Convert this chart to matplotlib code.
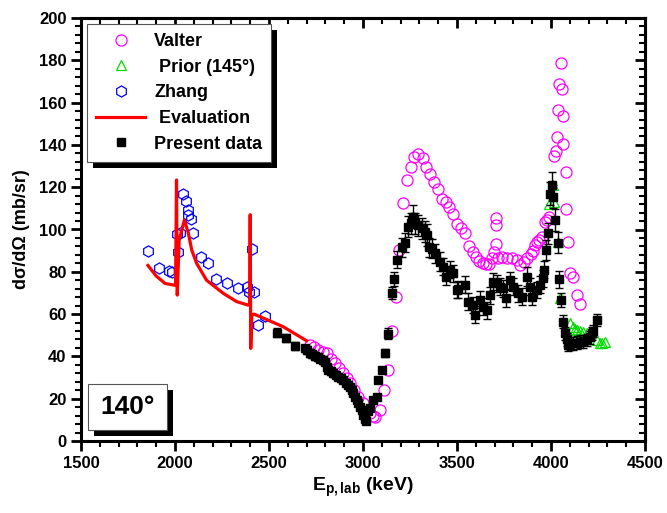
import matplotlib
matplotlib.use("Agg")
import matplotlib.pyplot as plt
from matplotlib.patches import Rectangle
from matplotlib.lines import Line2D
from matplotlib.ticker import MultipleLocator

plt.rcParams['font.family'] = ['Liberation Sans', 'DejaVu Sans']
plt.rcParams['font.weight'] = 'bold'
plt.rcParams['mathtext.fontset'] = 'custom'
plt.rcParams['mathtext.bf'] = 'Liberation Sans:bold'
plt.rcParams['mathtext.rm'] = 'Liberation Sans:bold'
plt.rcParams['mathtext.it'] = 'Liberation Sans:bold'
plt.rcParams['mathtext.default'] = 'bf'

# ---------------- data ----------------
present_x = [2541, 2590, 2640, 2691, 2704, 2718, 2731, 2745, 2758, 2771, 2785, 2798, 2807, 2816,
             2829, 2842, 2855, 2869, 2882, 2895, 2908, 2922, 2931, 2940, 2948, 2957, 2966, 2975,
             2984, 2993, 3002, 3010, 3016, 3025, 3037, 3055, 3073, 3082, 3099, 3117, 3135, 3153,
             3165, 3183, 3206, 3223, 3241, 3255, 3268, 3277, 3294, 3312, 3330, 3339, 3353, 3365,
             3383, 3410, 3427, 3441, 3463, 3480, 3498, 3507, 3543, 3561, 3587, 3596, 3622, 3640,
             3657, 3676, 3694, 3711, 3729, 3746, 3761, 3782, 3800, 3827, 3844, 3870, 3888, 3897,
             3924, 3941, 3956, 3963, 3973, 3986, 3995, 4004, 4012, 4021, 4036, 4045, 4053, 4065,
             4074, 4083, 4092, 4101, 4119, 4136, 4154, 4172, 4190, 4205, 4216, 4225, 4243]
present_y = [51.3, 48.6, 45.0, 43.8, 43.0, 41.5, 41.0, 40.2, 39.6, 39.0, 38.3, 37.5, 35.0, 33.6,
             33.0, 32.0, 31.2, 30.4, 29.6, 28.8, 27.5, 26.5, 25.5, 24.0, 22.5, 21.0, 19.5, 17.8,
             16.0, 14.7, 12.5, 10.5, 9.6, 14.0, 15.4, 19.4, 21.0, 28.8, 33.6, 41.5, 50.8, 70.0,
             76.6, 85.6, 91.6, 93.8, 101.3, 103.0, 106.0, 103.0, 102.0, 100.5, 99.0, 97.4, 91.6, 91.0,
             88.7, 84.8, 82.4, 77.7, 80.9, 79.3, 71.4, 71.7, 73.8, 65.9, 64.3, 59.6, 66.7, 63.5,
             61.9, 69.0, 75.3, 74.5, 73.0, 72.2, 67.5, 76.0, 73.0, 69.8, 68.2, 77.7, 73.0, 68.2,
             71.4, 73.8, 76.9, 80.9, 90.3, 98.2, 117.0, 121.0, 115.5, 104.5, 93.8, 76.4, 66.7, 56.4,
             50.9, 48.0, 45.4, 46.0, 46.2, 46.5, 47.0, 47.2, 47.8, 49.0, 50.9, 52.0, 57.2]
present_err = [2.0, 2.0, 2.0, 1.8, 1.8, 1.8, 1.8, 1.8, 1.8, 1.8, 1.8, 1.8, 1.6, 1.6,
               1.6, 1.6, 1.5, 1.5, 1.5, 1.5, 1.4, 1.4, 1.3, 1.3, 1.2, 1.2, 1.1, 1.0,
               1.0, 1.0, 1.0, 1.0, 1.0, 1.0, 1.0, 1.2, 1.2, 1.5, 1.6, 2.0, 2.5, 3.0,
               3.5, 4.0, 4.5, 4.5, 5.0, 5.0, 5.5, 5.0, 5.0, 5.0, 5.0, 5.0, 4.5, 4.5,
               4.5, 4.5, 4.0, 4.0, 4.0, 4.0, 4.0, 4.0, 4.0, 4.0, 4.0, 4.0, 4.0, 4.0,
               4.0, 4.0, 4.0, 4.0, 4.0, 4.0, 4.0, 4.0, 4.0, 4.0, 4.0, 4.5, 4.0, 4.0,
               4.0, 4.0, 4.0, 4.0, 4.5, 5.0, 5.5, 6.0, 5.5, 5.0, 5.0, 4.0, 3.5, 3.0,
               3.0, 3.0, 3.0, 3.0, 3.0, 3.0, 3.0, 3.0, 3.0, 3.0, 3.0, 3.0, 3.0]

valter_x = [2718, 2740, 2762, 2785, 2807, 2829, 2851, 2873, 2895, 2913, 2931, 2953, 2975, 3002,
            3037, 3051, 3064, 3090, 3110, 3135, 3156, 3176, 3193, 3211, 3232, 3253, 3271, 3294,
            3317, 3335, 3356, 3378, 3397, 3419, 3441, 3459, 3480, 3502, 3520, 3543, 3566, 3584,
            3601, 3619, 3637, 3654, 3672, 3685, 3697, 3707, 3707, 3707, 3720, 3737, 3764, 3791,
            3817, 3835, 3856, 3874, 3892, 3903, 3915, 3924, 3938, 3951, 3968, 3977, 3991, 4018,
            4027, 4030, 4039, 4044, 4052, 4058, 4066, 4066, 4078, 4080, 4088, 4101, 4119, 4136,
            4154]
valter_y = [45.4, 44.5, 43.0, 42.3, 41.5, 39.0, 36.7, 34.5, 32.0, 29.8, 27.3, 24.0, 21.0, 17.8,
            13.4, 11.8, 11.5, 14.5, 24.0, 33.4, 52.0, 68.0, 90.3, 112.4, 123.4, 129.6, 134.4, 135.7,
            134.0, 129.6, 126.2, 122.6, 119.0, 114.3, 113.0, 110.5, 107.1, 102.6, 100.5, 98.5, 92.2, 89.5,
            87.1, 85.1, 84.0, 83.7, 83.5, 86.4, 89.5, 93.0, 102.0, 105.3, 86.4, 87.1, 86.4, 86.4,
            85.6, 83.2, 84.8, 86.4, 88.4, 90.0, 92.7, 94.2, 95.0, 96.6, 103.7, 104.5, 106.0, 134.8,
            137.3, 143.9, 156.5, 169.0, 178.9, 166.4, 153.8, 140.3, 127.3, 109.6, 94.2, 79.6, 77.7, 69.0,
            64.8]

prior_x = [3990, 4000, 4008, 4015, 4039, 4048, 4101, 4115, 4127, 4140, 4154, 4172, 4190, 4243,
           4260, 4270, 4285]
prior_y = [112.0, 118.0, 121.0, 113.0, 94.2, 67.5, 55.6, 54.0, 53.0, 52.5, 52.0, 51.5, 51.0, 47.8,
           46.5, 46.2, 47.0]

zhang_x = [1856, 1916, 1970, 1982, 2009, 2014, 2027, 2044, 2059, 2067, 2071, 2085, 2097, 2136,
           2177, 2218, 2278, 2337, 2381, 2394, 2408, 2420, 2440, 2479]
zhang_y = [89.8, 82.0, 80.5, 80.0, 98.0, 89.5, 98.5, 117.0, 113.5, 109.0, 107.0, 105.0, 98.5, 87.0,
           84.0, 76.5, 74.5, 72.5, 73.0, 70.6, 91.0, 70.6, 55.0, 59.0]

eval_x = [1856, 1900, 1947, 1990, 2003, 2008, 2012, 2022, 2050, 2071, 2089, 2115, 2168, 2257,
          2328, 2387, 2397, 2400, 2403, 2408, 2420, 2452, 2576, 2700]
eval_y = [83.0, 78.0, 74.5, 73.8, 73.5, 123.4, 69.0, 95.0, 104.5, 98.2, 90.3, 84.0, 76.0, 69.8,
          65.9, 64.3, 64.3, 107.0, 43.8, 59.3, 60.0, 58.8, 54.0, 47.4]

x_ticks = [1500, 2000, 2500, 3000, 3500, 4000, 4500]
y_ticks = [0, 20, 40, 60, 80, 100, 120, 140, 160, 180, 200]

# ---------------- figure ----------------
fig = plt.figure(figsize=(6.67, 5.13), dpi=100)
ax = fig.add_axes([81/667, 1 - 441/513, 564/667, 423/513])

h_zhang, = ax.plot(zhang_x, zhang_y, linestyle='none', marker='h', markersize=8, mfc='none',
                   mec='#0000ff', mew=0.9, zorder=2)
h_valter, = ax.plot(valter_x, valter_y, linestyle='none', marker='o', markersize=8, mfc='none',
                    mec='#ff00ff', mew=0.9, zorder=3)
h_prior, = ax.plot(prior_x, prior_y, linestyle='none', marker='^', markersize=7, mfc='none',
                   mec='#00dd00', mew=0.9, zorder=3)
ax.errorbar(present_x, present_y, yerr=present_err, fmt='s', color='black', markersize=6,
            ecolor='black', elinewidth=1, capsize=3, capthick=1, zorder=4)
h_eval, = ax.plot(eval_x, eval_y, color='#ff0000', linewidth=2.3, zorder=5)
h_present = Line2D([], [], linestyle='none', marker='s', markersize=6, color='black')

ax.set_xlim(1500, 4500)
ax.set_ylim(0, 200)
ax.set_xticks(x_ticks)
ax.set_yticks(y_ticks)
ax.xaxis.set_minor_locator(MultipleLocator(100))
ax.yaxis.set_minor_locator(MultipleLocator(4))
ax.tick_params(which='major', direction='out', length=7, width=2, labelsize=12)
ax.tick_params(which='minor', direction='out', length=4, width=1.5)
for lab in ax.get_xticklabels() + ax.get_yticklabels():
    lab.set_fontweight('bold')
for sp in ax.spines.values():
    sp.set_linewidth(2.2)

top = ax.secondary_xaxis('top')
top.set_xticks(x_ticks)
top.xaxis.set_minor_locator(MultipleLocator(100))
top.tick_params(which='major', direction='in', length=7, width=2, labeltop=False)
top.tick_params(which='minor', direction='in', length=4, width=1.5)
top.spines['top'].set_linewidth(2.2)
right = ax.secondary_yaxis('right')
right.set_yticks(y_ticks)
right.yaxis.set_minor_locator(MultipleLocator(4))
right.tick_params(which='major', direction='in', length=7, width=2, labelright=False)
right.tick_params(which='minor', direction='in', length=4, width=1.5)
right.spines['right'].set_linewidth(2.2)

ax.set_xlabel('E$_{p,lab}$ (keV)', fontsize=14, fontweight='bold', labelpad=4)
ax.set_ylabel('dσ/dΩ (mb/sr)', fontsize=13, fontweight='bold', labelpad=6)

# legend
leg_labels = ['Valter', ' Prior (145°)', 'Zhang', ' Evaluation', 'Present data']
leg_handles = [h_valter, h_prior, h_zhang, h_eval, h_present]
leg = ax.legend(leg_handles, leg_labels, loc='upper left',
                bbox_to_anchor=(0.011, 0.986), borderaxespad=0,
                prop={'weight': 'bold', 'size': 13}, handlelength=2.7, handletextpad=0.5,
                labelspacing=0.48, borderpad=0.5, fancybox=False, framealpha=1,
                edgecolor='#555555')
leg.get_frame().set_linewidth(0.8)
leg.set_zorder(10)

# 140° box with shadow
bx0, by0, bw, bh = (88 - 81) / 564, (441 - 430) / 423, (166.7 - 88) / 564, (430 - 384.3) / 423
dx, dy = 6 / 564, 6 / 423
ax.add_patch(Rectangle((bx0 + dx, by0 - dy), bw, bh, transform=ax.transAxes,
                       facecolor='black', edgecolor='none', zorder=8, clip_on=False))
ax.add_patch(Rectangle((bx0, by0), bw, bh, transform=ax.transAxes,
                       facecolor='white', edgecolor='#555555', linewidth=0.8, zorder=9,
                       clip_on=False))
ax.text(bx0 + bw / 2, by0 + bh / 2, '140°', transform=ax.transAxes, ha='center',
        va='center', fontsize=19, fontweight='bold', zorder=10)

# legend shadow (drawn inside the axes, just below the legend)
fig.canvas.draw()
bb = leg.get_window_extent()
inv = fig.transFigure.inverted()
(x0, y0) = inv.transform((bb.x0 + 6, bb.y0 - 6))
(x1, y1) = inv.transform((bb.x1 + 6, bb.y1 - 6))
ax.add_patch(Rectangle((x0, y0), x1 - x0, y1 - y0, transform=fig.transFigure,
                       facecolor='black', edgecolor='none', zorder=9.5, clip_on=False))

fig.savefig('out.png', dpi=100)
